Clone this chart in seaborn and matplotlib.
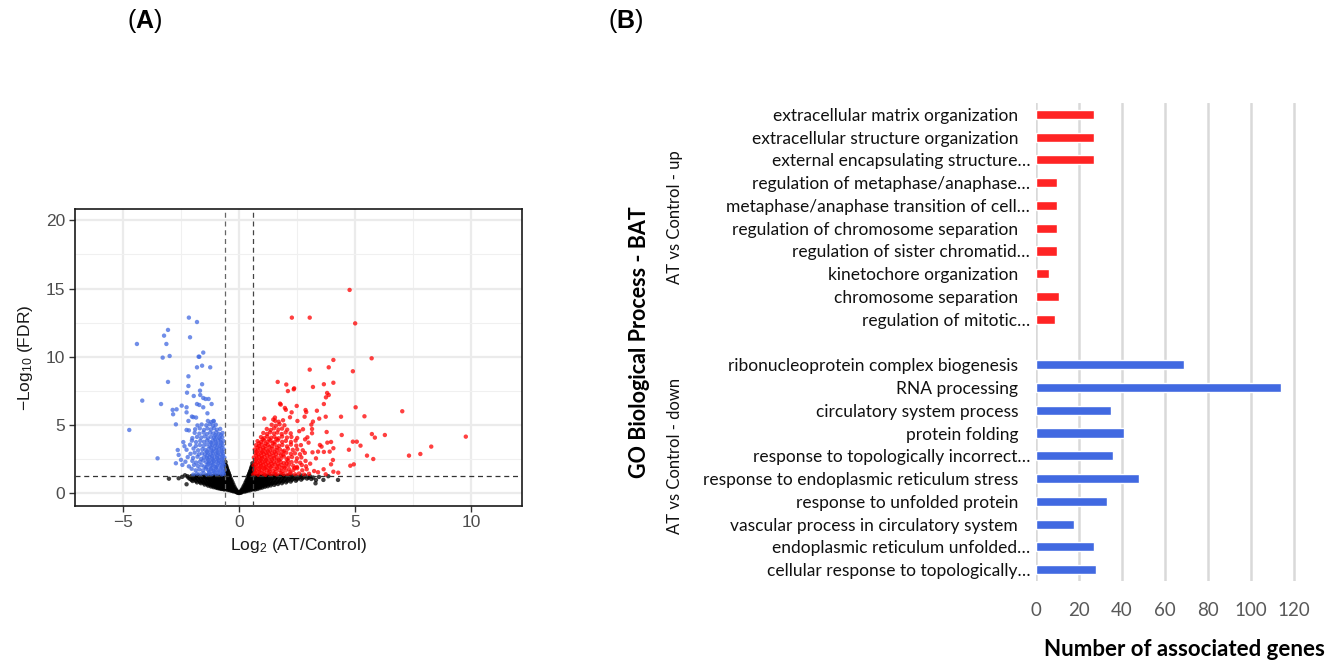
import numpy as np
import pandas as pd
import seaborn as sns
import matplotlib.pyplot as plt
from matplotlib.ticker import MultipleLocator
from matplotlib.transforms import ScaledTranslation

# ---------------- data: volcano ----------------
up_points = [
    # dense cloud
    (0.62,1.38),(0.71,1.45),(0.83,1.36),(0.92,1.49),(1.05,1.40),(1.14,1.35),(1.28,1.47),(1.38,1.39),(1.53,1.44),(1.64,1.37),(1.80,1.48),(1.92,1.41),(2.09,1.36),(2.23,1.46),(2.42,1.39),(2.59,1.45),(2.81,1.37),(3.02,1.43),
    (0.65,1.72),(0.76,1.65),(0.85,1.78),(0.98,1.69),(1.07,1.81),(1.21,1.67),(1.31,1.76),(1.46,1.64),(1.57,1.79),(1.73,1.70),(1.85,1.83),(2.02,1.66),(2.16,1.77),(2.35,1.71),(2.51,1.84),(2.73,1.68),(2.92,1.76),
    (0.63,2.03),(0.74,1.95),(0.84,2.09),(0.96,1.99),(1.05,2.07),(1.19,1.94),(1.29,2.05),(1.44,1.98),(1.55,2.11),(1.71,2.00),(1.84,2.06),(2.01,1.96),(2.15,2.08),(2.34,2.01),(2.50,1.93),(2.71,2.07),(2.89,1.98),
    (0.67,2.31),(0.79,2.25),(0.88,2.38),(1.01,2.28),(1.11,2.35),(1.25,2.23),(1.36,2.34),(1.51,2.27),(1.63,2.39),(1.80,2.29),(1.94,2.22),(2.12,2.36),(2.27,2.28),(2.47,2.33),(2.64,2.24),(2.87,2.37),
    (0.64,2.62),(0.77,2.55),(0.86,2.68),(1.00,2.58),(1.10,2.65),(1.24,2.53),(1.35,2.67),(1.51,2.57),(1.63,2.64),(1.80,2.54),(1.94,2.69),(2.13,2.59),(2.29,2.66),(2.50,2.56),(2.69,2.63),
    (0.70,2.93),(0.83,2.85),(0.93,2.97),(1.07,2.88),(1.17,2.95),(1.32,2.84),(1.43,2.96),(1.59,2.87),(1.72,2.94),(1.90,2.83),(2.04,2.98),(2.24,2.89),(2.41,2.93),(2.63,2.86),(2.84,2.96),
    (0.68,3.21),(0.81,3.14),(0.92,3.27),(1.06,3.17),(1.17,3.24),(1.33,3.13),(1.45,3.26),(1.62,3.16),(1.76,3.23),(1.95,3.12),(2.11,3.27),(2.32,3.18),(2.51,3.22),(2.75,3.15),
    (0.73,3.52),(0.87,3.45),(0.98,3.57),(1.13,3.47),(1.25,3.55),(1.41,3.44),(1.54,3.58),(1.72,3.48),(1.87,3.54),(2.07,3.43),(2.24,3.57),(2.47,3.49),(2.67,3.53),
    (0.80,3.82),(0.95,3.75),(1.07,3.87),(1.23,3.78),(1.36,3.85),(1.53,3.74),(1.67,3.88),(1.86,3.77),(2.02,3.84),(2.24,3.76),(2.44,3.86),
    (0.95,4.12),(1.10,4.05),(1.22,4.17),(1.39,4.07),(1.53,4.14),(1.71,4.03),(1.86,4.16),(2.07,4.08),(2.26,4.13),(2.51,4.05),
    (1.05,4.42),(1.21,4.35),(1.34,4.47),(1.51,4.38),(1.65,4.45),(1.84,4.34),(2.01,4.46),(2.23,4.39),
    (1.20,4.71),(1.37,4.64),(1.51,4.76),(1.70,4.67),(1.86,4.74),(2.08,4.66),
    (1.41,5.02),(1.59,4.95),(1.75,5.06),(1.96,4.98),
    (1.56,5.31),(1.71,5.24),(1.90,5.35),
    (0.69,1.56),(0.88,1.58),(1.09,1.54),(1.32,1.60),(1.58,1.55),(1.86,1.59),(2.21,1.57),(0.70,1.86),(0.91,1.89),(1.13,1.85),(1.37,1.91),(1.64,1.87),(1.96,1.88),(2.40,1.86),
    (0.72,2.16),(0.93,2.19),(1.15,2.15),(1.40,2.18),(1.68,2.14),(2.05,2.19),(0.73,2.46),(0.94,2.48),(1.17,2.44),(1.42,2.47),(1.72,2.43),(2.06,2.48),
    (0.75,2.77),(0.97,2.74),(1.21,2.78),(1.49,2.75),(1.81,2.77),(0.76,3.05),(1.00,3.03),(1.25,3.07),(1.54,3.04),(1.88,3.06),
    (0.80,3.36),(1.04,3.34),(1.31,3.38),(1.63,3.35),(0.86,3.66),(1.15,3.64),(1.45,3.68),(1.02,3.96),(1.31,3.95),(1.61,3.98),
    # scattered
    (4.77,14.90),(2.28,12.87),(3.05,12.87),(5.01,12.45),(5.72,9.89),(4.07,9.77),(3.87,9.23),(3.05,9.06),(4.91,8.94),
    (1.67,8.16),(2.04,7.97),(2.11,7.49),(2.38,7.69),(2.36,7.62),(3.19,7.79),(3.66,7.99),(4.07,8.10),(3.87,7.20),(3.80,7.35),
    (3.75,7.03),(3.66,6.54),(1.77,6.57),(1.80,6.50),(1.98,6.25),(2.02,6.12),(2.27,5.93),(2.49,6.40),(2.87,6.10),(2.90,5.95),
    (2.83,5.61),(3.36,6.05),(3.46,5.47),(3.74,5.61),(4.40,5.61),(5.03,6.30),(5.41,5.64),(7.04,6.01),(1.09,5.47),(1.48,5.40),
    (1.55,5.55),(2.20,5.57),(2.52,5.30),(2.76,4.69),(3.19,5.25),(3.12,5.03),(3.15,4.71),(3.78,4.49),(3.97,3.76),(4.07,3.30),
    (3.91,3.05),(4.05,2.44),(3.97,2.12),(4.28,1.51),(4.43,4.27),(4.74,3.19),(4.91,3.78),(5.08,3.78),(5.24,3.49),(5.52,2.76),
    (5.79,2.51),(5.73,4.34),(5.86,4.08),(6.29,4.27),(4.80,2.02),(4.95,2.12),(7.33,2.76),(7.82,2.88),(8.29,3.42),(9.78,4.15),
    (3.66,3.03),(3.41,3.05),(3.32,2.56),(3.17,3.00),(3.07,2.17),(3.24,1.63),(3.41,1.54),(3.65,1.76),(3.74,1.39),(4.07,1.58),
    (3.56,3.42),(3.81,3.71),(3.49,3.54),(3.00,3.71),(2.95,4.10),(3.15,4.40),(2.60,4.55),(2.85,3.95),
]

down_points = [
    # dense cloud
    (-0.65,1.42),(-0.74,1.38),(-0.83,1.47),(-0.96,1.36),(-1.04,1.51),(-1.17,1.40),(-1.26,1.45),(-1.37,1.35),(-1.52,1.48),(-1.66,1.39),(-1.81,1.44),(-1.97,1.37),
    (-0.61,1.73),(-0.71,1.66),(-0.79,1.79),(-0.92,1.69),(-1.01,1.82),(-1.11,1.64),(-1.21,1.76),(-1.32,1.70),(-1.43,1.81),(-1.56,1.67),(-1.71,1.75),(-1.87,1.68),(-2.04,1.80),
    (-0.64,2.04),(-0.73,1.96),(-0.81,2.09),(-0.94,2.01),(-1.02,1.94),(-1.14,2.07),(-1.23,1.98),(-1.35,2.11),(-1.49,1.95),(-1.61,2.06),(-1.77,2.00),(-1.94,2.08),(-2.16,1.97),
    (-0.66,2.33),(-0.77,2.26),(-0.87,2.38),(-0.97,2.29),(-1.08,2.36),(-1.19,2.24),(-1.28,2.34),(-1.41,2.27),(-1.54,2.39),(-1.69,2.30),(-1.85,2.25),(-2.01,2.37),(-2.31,2.31),
    (-0.63,2.62),(-0.72,2.55),(-0.84,2.67),(-0.95,2.58),(-1.06,2.64),(-1.16,2.53),(-1.27,2.66),(-1.39,2.57),(-1.51,2.63),(-1.63,2.52),(-1.79,2.68),(-1.98,2.59),(-2.21,2.65),
    (-0.68,2.91),(-0.78,2.84),(-0.89,2.96),(-0.99,2.88),(-1.11,2.94),(-1.22,2.83),(-1.32,2.97),(-1.46,2.86),(-1.59,2.93),(-1.73,2.85),(-1.91,2.98),(-2.09,2.89),
    (-0.65,3.22),(-0.76,3.14),(-0.86,3.27),(-0.98,3.18),(-1.09,3.24),(-1.19,3.13),(-1.31,3.26),(-1.45,3.17),(-1.58,3.23),(-1.76,3.15),(-1.96,3.28),(-2.26,3.19),
    (-0.70,3.52),(-0.81,3.45),(-0.91,3.57),(-1.03,3.48),(-1.14,3.55),(-1.26,3.44),(-1.39,3.58),(-1.53,3.47),(-1.69,3.54),(-1.86,3.46),(-2.11,3.56),
    (-0.67,3.83),(-0.79,3.76),(-0.90,3.87),(-1.01,3.78),(-1.13,3.85),(-1.25,3.74),(-1.37,3.88),(-1.51,3.77),(-1.67,3.84),(-1.85,3.75),(-2.03,3.86),
    (-0.72,4.12),(-0.85,4.05),(-0.96,4.16),(-1.08,4.07),(-1.21,4.14),(-1.34,4.03),(-1.48,4.17),(-1.63,4.08),(-1.81,4.13),(-2.01,4.04),
    (-0.71,4.42),(-0.86,4.36),(-0.98,4.47),(-1.11,4.38),(-1.24,4.45),(-1.38,4.34),(-1.53,4.46),(-1.71,4.37),(-1.91,4.43),(-2.16,4.61),
    (-0.81,4.72),(-0.95,4.66),(-1.08,4.77),(-1.21,4.68),(-1.36,4.75),(-1.51,4.64),(-1.69,4.76),(-1.89,4.69),
    (-1.00,5.02),(-1.12,4.95),(-1.26,5.06),(-1.41,4.98),(-1.61,5.04),(-1.79,4.97),
    (-1.10,5.27),(-1.19,5.22),(-1.34,5.30),
    (-0.69,1.55),(-0.88,1.58),(-1.07,1.61),(-1.29,1.57),(-0.76,1.88),(-0.97,1.91),(-1.18,1.86),(-1.40,1.92),(-0.69,2.18),(-0.89,2.21),(-1.10,2.16),(-1.31,2.19),
    (-0.74,2.46),(-0.91,2.49),(-1.12,2.44),(-1.33,2.47),(-0.70,2.75),(-0.94,2.78),(-1.16,2.73),(-1.37,2.76),(-0.73,3.05),(-0.93,3.03),(-1.14,3.07),(-1.38,3.04),
    (-0.75,3.36),(-0.96,3.33),(-1.20,3.37),(-0.76,3.67),(-0.98,3.64),(-1.19,3.69),(-0.80,3.97),(-1.03,3.95),(-0.78,4.27),(-1.02,4.25),
    # scattered
    (-4.40,10.94),(-4.73,4.64),(-4.17,6.79),(-3.51,2.56),(-3.36,6.54),(-3.29,9.94),(-3.23,11.55),(-3.13,10.94),(-3.06,11.97),(-2.99,10.06),
    (-3.06,8.16),(-2.86,6.11),(-2.69,6.15),(-2.84,5.79),(-2.72,5.05),(-2.64,3.17),(-2.60,2.81),(-2.72,2.20),(-2.47,6.42),(-2.44,2.08),
    (-2.16,12.87),(-2.11,11.43),(-1.81,12.55),(-1.54,10.31),(-1.74,10.01),(-1.71,10.00),(-1.59,9.35),(-1.81,9.23),(-1.24,9.23),(-2.18,8.57),
    (-2.18,7.86),(-1.59,7.99),(-2.24,7.37),(-1.95,7.13),(-1.68,7.52),(-1.67,7.20),(-1.54,6.98),(-1.44,6.91),(-1.31,6.91),(-1.81,6.54),
    (-1.71,6.47),(-1.54,6.30),(-1.18,6.54),(-1.36,5.86),(-2.26,6.30),(-2.26,5.93),(-2.03,5.62),(-1.97,5.58),(-1.85,5.55),(-1.09,5.30),
    (-2.18,5.30),(-2.26,4.64),(-2.40,3.75),(-2.35,3.45),(-2.50,2.45),
]

ns_points = [
    # V arms
    (0.00,0.02),(0.03,0.05),(-0.03,0.04),(0.06,0.10),(-0.06,0.09),(0.09,0.16),(-0.09,0.15),(0.12,0.08),(-0.12,0.10),(0.12,0.25),(-0.12,0.24),
    (0.16,0.14),(-0.16,0.13),(0.16,0.36),(-0.16,0.35),(0.20,0.20),(-0.20,0.18),(0.20,0.50),(-0.20,0.48),(0.24,0.12),(-0.24,0.14),(0.24,0.33),
    (-0.24,0.35),(0.24,0.62),(-0.24,0.64),(0.28,0.20),(-0.28,0.22),(0.28,0.48),(-0.28,0.50),(0.28,0.78),(-0.28,0.80),(0.32,0.16),(-0.32,0.18),
    (0.32,0.40),(-0.32,0.42),(0.32,0.66),(-0.32,0.68),(0.32,0.92),(-0.32,0.95),(0.36,0.25),(-0.36,0.27),(0.36,0.56),(-0.36,0.58),(0.36,0.85),
    (-0.36,0.88),(0.36,1.08),(-0.36,1.10),(0.40,0.20),(-0.40,0.22),(0.40,0.45),(-0.40,0.48),(0.40,0.72),(-0.40,0.75),(0.40,1.00),(-0.40,1.02),
    (0.40,1.25),(-0.40,1.28),(0.44,0.30),(-0.44,0.32),(0.44,0.60),(-0.44,0.62),(0.44,0.90),(-0.44,0.93),(0.44,1.18),(-0.44,1.20),(0.44,1.42),
    (-0.44,1.46),(0.48,0.22),(-0.48,0.24),(0.48,0.50),(-0.48,0.52),(0.48,0.78),(-0.48,0.80),(0.48,1.06),(-0.48,1.08),(0.48,1.33),(-0.48,1.36),
    (0.48,1.60),(-0.48,1.64),(0.52,0.35),(-0.52,0.37),(0.52,0.66),(-0.52,0.68),(0.52,0.96),(-0.52,0.98),(0.52,1.25),(-0.52,1.28),(0.52,1.52),
    (-0.52,1.56),(0.52,1.80),(-0.52,1.84),(0.56,0.28),(-0.56,0.30),(0.56,0.58),(-0.56,0.60),(0.56,0.88),(-0.56,0.90),(0.56,1.16),(-0.56,1.18),
    (0.56,1.44),(-0.56,1.47),(0.56,1.72),(-0.56,1.76),(0.56,2.00),(-0.56,2.06),(0.58,2.20),(-0.58,2.30),(0.58,1.90),(-0.58,1.95),
    (-0.22,0.28),(0.22,0.27),(-0.26,0.45),(0.26,0.44),(-0.30,0.32),(0.30,0.30),(-0.30,0.60),(0.30,0.58),(-0.34,0.52),(0.34,0.50),(-0.34,0.80),
    (0.34,0.78),(-0.38,0.38),(0.38,0.36),(-0.38,0.70),(0.38,0.68),(-0.38,0.98),(0.38,0.96),(-0.42,0.58),(0.42,0.56),(-0.42,0.86),(0.42,0.84),
    (-0.42,1.14),(0.42,1.12),(-0.42,1.35),(0.42,1.32),(-0.46,0.45),(0.46,0.43),(-0.46,0.72),(0.46,0.70),(-0.46,1.00),(0.46,0.98),(-0.46,1.28),
    (0.46,1.25),(-0.46,1.55),(0.46,1.50),(-0.50,0.62),(0.50,0.60),(-0.50,0.90),(0.50,0.88),(-0.50,1.18),(0.50,1.16),(-0.50,1.45),(0.50,1.42),
    (-0.50,1.72),(0.50,1.68),(-0.54,0.48),(0.54,0.46),(-0.54,0.78),(0.54,0.76),(-0.54,1.08),(0.54,1.06),(-0.54,1.38),(0.54,1.35),(-0.54,1.65),
    (0.54,1.62),(-0.54,1.95),(0.54,1.90),(-0.58,0.42),(0.58,0.40),(-0.58,0.75),(0.58,0.72),(-0.58,1.05),(0.58,1.02),(-0.58,1.35),(0.58,1.32),
    (-0.58,1.62),(0.58,1.60),(-0.60,2.10),(0.60,2.00),(-0.08,0.05),(0.08,0.04),(-0.14,0.18),(0.14,0.18),(-0.18,0.25),(0.18,0.26),
    # left band
    (-0.62,0.35),(-0.62,0.70),(-0.62,1.05),(-0.66,0.50),(-0.66,0.88),(-0.66,1.22),(-0.70,0.32),(-0.70,0.66),(-0.70,1.00),(-0.74,0.48),(-0.74,0.82),
    (-0.74,1.16),(-0.78,0.38),(-0.78,0.72),(-0.78,1.08),(-0.82,0.55),(-0.82,0.92),(-0.82,1.27),(-0.86,0.42),(-0.86,0.78),(-0.86,1.12),(-0.90,0.60),
    (-0.90,0.96),(-0.94,0.45),(-0.94,0.82),(-0.94,1.20),(-0.98,0.62),(-0.98,1.02),(-1.02,0.50),(-1.02,0.86),(-1.02,1.24),(-1.07,0.68),(-1.07,1.06),
    (-1.12,0.55),(-1.12,0.90),(-1.12,1.26),(-1.18,0.72),(-1.18,1.10),(-1.24,0.60),(-1.24,0.95),(-1.24,1.28),(-1.30,0.78),(-1.30,1.14),(-1.37,0.66),
    (-1.37,1.00),(-1.37,1.30),(-1.44,0.85),(-1.44,1.18),(-1.52,0.75),(-1.52,1.08),(-1.60,0.92),(-1.60,1.25),(-1.68,0.82),(-1.68,1.15),(-1.77,1.02),
    (-1.77,1.30),(-1.86,0.90),(-1.86,1.20),(-1.96,1.08),(-2.05,0.98),(-2.05,1.26),(-2.18,1.15),(-2.26,0.66),(-2.33,1.32),(-3.02,1.07),
    (-0.60,0.52),(-0.60,0.88),(-0.60,1.22),(-0.64,0.28),(-0.64,0.68),(-0.64,1.12),(-0.68,0.42),(-0.68,0.78),(-0.68,1.15),(-0.72,0.55),(-0.72,0.90),
    (-0.72,1.25),(-0.76,0.32),(-0.76,0.62),(-0.76,0.98),(-0.80,0.45),(-0.80,0.82),(-0.80,1.18),(-0.84,0.35),(-0.84,0.68),(-0.84,1.02),(-0.88,0.52),
    (-0.88,0.88),(-0.88,1.24),(-0.92,0.38),(-0.92,0.72),(-0.92,1.08),(-0.96,0.52),(-0.96,0.90),(-0.96,1.28),(-1.00,0.42),(-1.00,0.75),(-1.00,1.12),
    (-1.05,0.58),(-1.05,0.96),(-1.05,1.30),(-1.10,0.45),(-1.10,0.78),(-1.10,1.15),(-1.15,0.62),(-1.15,1.00),(-1.21,0.50),(-1.21,0.84),(-1.21,1.20),
    (-1.27,0.68),(-1.27,1.04),(-1.33,0.56),(-1.33,0.90),(-1.33,1.24),(-1.40,0.74),(-1.40,1.10),(-1.48,0.64),(-1.48,0.98),(-1.48,1.28),(-1.56,0.84),
    (-1.56,1.18),(-1.64,0.74),(-1.64,1.06),(-1.72,0.92),(-1.72,1.24),(-1.81,0.80),(-1.81,1.12),(-1.91,1.00),(-1.91,1.28),(-2.00,0.90),(-2.00,1.16),
    (-2.12,1.06),(-2.22,1.25),(-2.45,1.20),(-2.60,1.10),
    # right band
    (0.62,0.30),(0.62,0.65),(0.62,1.00),(0.66,0.45),(0.66,0.82),(0.66,1.18),(0.70,0.28),(0.70,0.60),(0.70,0.95),(0.70,1.26),(0.75,0.42),(0.75,0.76),
    (0.75,1.10),(0.80,0.32),(0.80,0.64),(0.80,0.98),(0.80,1.28),(0.85,0.48),(0.85,0.82),(0.85,1.15),(0.90,0.38),(0.90,0.70),(0.90,1.04),(0.95,0.55),
    (0.95,0.88),(0.95,1.22),(1.00,0.42),(1.00,0.75),(1.00,1.10),(1.06,0.60),(1.06,0.95),(1.06,1.27),(1.12,0.48),(1.12,0.82),(1.12,1.16),(1.18,0.66),
    (1.18,1.00),(1.24,0.52),(1.24,0.86),(1.24,1.22),(1.30,0.70),(1.30,1.06),(1.37,0.58),(1.37,0.92),(1.37,1.28),(1.44,0.76),(1.44,1.12),(1.52,0.62),
    (1.52,0.98),(1.52,1.30),(1.60,0.80),(1.60,1.16),(1.68,0.68),(1.68,1.04),(1.76,0.88),(1.76,1.24),(1.85,0.74),(1.85,1.10),(1.94,0.94),(1.94,1.28),
    (2.03,0.80),(2.03,1.16),(2.13,1.00),(2.13,1.30),(2.23,0.86),(2.23,1.20),(2.34,1.06),(2.45,0.92),(2.45,1.26),(2.56,1.12),(2.68,1.00),(2.68,1.30),
    (2.80,1.18),(2.93,1.08),(3.06,1.25),(3.20,1.15),(3.30,0.73),(3.32,0.97),(3.45,1.20),(3.64,0.98),(3.85,1.25),(4.27,0.98),
    (0.60,0.48),(0.60,0.82),(0.60,1.16),(0.64,0.36),(0.64,0.70),(0.64,1.05),(0.68,0.50),(0.68,0.86),(0.68,1.22),(0.72,0.38),(0.72,0.72),(0.72,1.08),
    (0.77,0.55),(0.77,0.90),(0.77,1.25),(0.82,0.42),(0.82,0.78),(0.82,1.12),(0.87,0.60),(0.87,0.95),(0.87,1.28),(0.92,0.48),(0.92,0.84),(0.92,1.18),
    (0.97,0.66),(0.97,1.02),(1.03,0.52),(1.03,0.88),(1.03,1.24),(1.09,0.70),(1.09,1.06),(1.15,0.58),(1.15,0.94),(1.15,1.28),(1.21,0.76),(1.21,1.12),
    (1.27,0.64),(1.27,0.98),(1.27,1.30),(1.34,0.80),(1.34,1.16),(1.41,0.70),(1.41,1.04),(1.48,0.86),(1.48,1.20),(1.56,0.74),(1.56,1.08),(1.64,0.90),
    (1.64,1.26),(1.72,0.80),(1.72,1.14),(1.80,0.96),(1.80,1.30),(1.89,0.86),(1.89,1.20),(1.98,1.04),(2.08,0.90),(2.08,1.24),(2.18,1.10),(2.28,0.98),
    (2.28,1.28),(2.39,1.14),(2.50,1.02),(2.62,1.20),(2.74,1.10),(2.86,1.28),(3.00,1.15),(3.12,1.05),
]

fc_cut = 0.585      # log2(1.5)
fdr_cut = 1.301     # -log10(0.05)

# ---------------- data: GO enrichment bars ----------------
up_terms = ["extracellular matrix organization", "extracellular structure organization",
            "external encapsulating structure\u2026", "regulation of metaphase/anaphase\u2026",
            "metaphase/anaphase transition of cell\u2026", "regulation of chromosome separation",
            "regulation of sister chromatid\u2026", "kinetochore organization",
            "chromosome separation", "regulation of mitotic\u2026"]
up_counts = [27, 27, 27, 10, 10, 10, 10, 6, 11, 9]
down_terms = ["ribonucleoprotein complex biogenesis", "RNA processing", "circulatory system process",
              "protein folding", "response to topologically incorrect\u2026",
              "response to endoplasmic reticulum stress", "response to unfolded protein",
              "vascular process in circulatory system", "endoplasmic reticulum unfolded\u2026",
              "cellular response to topologically\u2026"]
down_counts = [69, 114, 35, 41, 36, 48, 33, 18, 27, 28]
bar_ticks = [0, 20, 40, 60, 80, 100, 120]

# ---------------- style ----------------
sns.set_theme(style="white")
plt.rcParams["font.family"] = ["Liberation Sans", "DejaVu Sans"]
plt.rcParams["mathtext.fontset"] = "custom"
plt.rcParams["mathtext.rm"] = "Liberation Sans"
plt.rcParams["mathtext.bf"] = "Liberation Sans:bold"
plt.rcParams["mathtext.it"] = "Liberation Sans:italic"

RED = "#FF0000"
BLUE = "#4169E1"
BAR_RED = "#FF2424"
CAL = ["Lato", "DejaVu Sans"]

fig = plt.figure(figsize=(13.28, 6.62), dpi=100)

# ---------------- (A) volcano ----------------
ax1 = fig.add_axes([75 / 1328, 1 - 505.7 / 662, (521.7 - 75) / 1328, (505.7 - 209) / 662])
frames = []
for name, pts in [("ns", ns_points), ("down", down_points), ("up", up_points)]:
    arr = np.array(pts)
    frames.append(pd.DataFrame({"log2fc": arr[:, 0], "nlogfdr": arr[:, 1], "group": name}))
vdf = pd.concat(frames, ignore_index=True)
sns.scatterplot(data=vdf, x="log2fc", y="nlogfdr", hue="group",
                palette={"ns": "black", "down": BLUE, "up": RED},
                s=10, linewidth=0, alpha=0.75, legend=False, ax=ax1, zorder=3)
ax1.axvline(-fc_cut, ls=(0, (4, 3)), color="#666666", lw=0.9, zorder=4)
ax1.axvline(fc_cut, ls=(0, (4, 3)), color="#444444", lw=0.9, zorder=4)
ax1.axhline(fdr_cut, ls=(0, (4, 3)), color="#333333", lw=0.9, zorder=4)
ax1.set_xlim(-7.07, 12.19)
ax1.set_ylim(-0.91, 20.83)
ax1.set_xticks([-5, 0, 5, 10])
ax1.set_yticks([0, 5, 10, 15, 20])
ax1.xaxis.set_minor_locator(MultipleLocator(2.5))
ax1.yaxis.set_minor_locator(MultipleLocator(2.5))
ax1.grid(which="major", color="#EBEBEB", lw=1.6)
ax1.grid(which="minor", color="#F0F0F0", lw=0.8)
ax1.set_axisbelow(True)
ax1.tick_params(which="major", direction="out", length=4, width=1, color="#333333",
                labelsize=12.5, labelcolor="#4D4D4D", pad=3, left=True, bottom=True)
ax1.tick_params(which="minor", length=0)
for sp in ax1.spines.values():
    sp.set_color("#1A1A1A")
    sp.set_linewidth(1.2)
ax1.set_xlabel(r"Log$_\mathregular{2}$ (AT/Control)", fontsize=12.5, color="#1A1A1A", labelpad=4)
ax1.set_ylabel(r"$-$Log$_\mathregular{10}$ (FDR)", fontsize=12.5, color="#1A1A1A", labelpad=8)

# ---------------- (B) GO bars ----------------
ax2 = fig.add_axes([1035.7 / 1328, 1 - 581 / 662, (1306.6 - 1035.7) / 1328, (581 - 103) / 662])
order = up_terms + [" "] + down_terms
bdf = pd.DataFrame({"term": up_terms + down_terms,
                    "count": up_counts + down_counts,
                    "group": ["up"] * len(up_terms) + ["down"] * len(down_terms)})
sns.barplot(data=bdf, x="count", y="term", hue="group", order=order, orient="h",
            palette={"up": BAR_RED, "down": BLUE}, width=0.4, dodge=False,
            saturation=1, legend=False, ax=ax2, zorder=3)
ax2.set_xlim(0, 126)
ax2.set_ylim(20.5, -0.5)
ax2.set_xticks(bar_ticks)
ax2.grid(axis="x", color="#D9D9D9", lw=1.8, zorder=0)
ax2.grid(axis="y", visible=False)
ax2.set_axisbelow(True)
for sp in ax2.spines.values():
    sp.set_visible(False)
ax2.set_xlabel("")
ax2.set_ylabel("")
ax2.set_yticks(range(len(order)))
ax2.set_yticklabels(order, family=CAL, fontsize=12.5, color="#111111")
ax2.tick_params(axis="y", length=0, pad=12.7)
ax2.tick_params(axis="x", length=0, pad=15, labelsize=13.5, labelcolor="#595959")
for lab in ax2.get_xticklabels():
    lab.set_family(CAL)
for lab in ax2.get_yticklabels():
    if lab.get_text().endswith("\u2026"):
        lab.set_transform(lab.get_transform() + ScaledTranslation(12 / 100, 0, fig.dpi_scale_trans))

fig.text(1184 / 1328, 1 - 650 / 662, "Number of associated genes", ha="center", va="center",
         fontsize=16, fontweight="bold", family=CAL, color="#000000")
fig.text(640 / 1328, 1 - 342 / 662, "GO Biological Process - BAT", rotation=90, ha="center",
         va="center", fontsize=15.5, fontweight="bold", family=CAL, color="#000000")
fig.text(675 / 1328, 1 - 217 / 662, "AT vs Control - up", rotation=90, ha="center", va="center",
         fontsize=12, family=CAL, color="#111111")
fig.text(675 / 1328, 1 - 456 / 662, "AT vs Control - down", rotation=90, ha="center", va="center",
         fontsize=12, family=CAL, color="#111111")

# panel tags
fig.text(145 / 1328, 1 - 21 / 662, r"($\mathbf{A}$)", ha="center", va="center", fontsize=18, color="#000000")
fig.text(626 / 1328, 1 - 21 / 662, r"($\mathbf{B}$)", ha="center", va="center", fontsize=18, color="#000000")

fig.savefig("out.png", dpi=100)
